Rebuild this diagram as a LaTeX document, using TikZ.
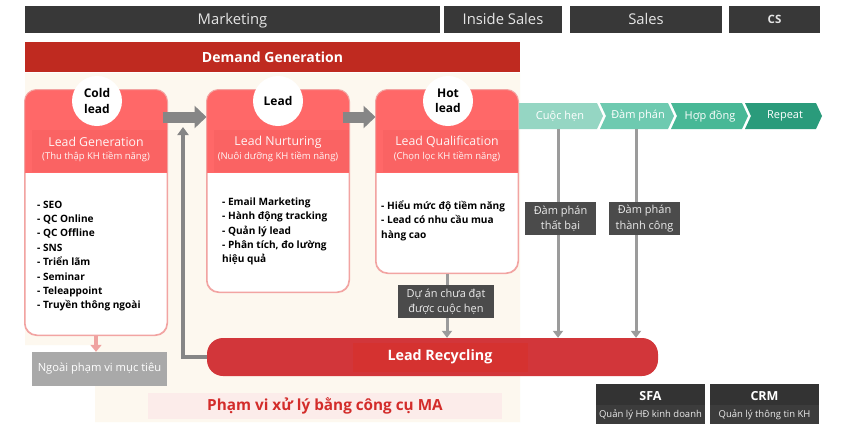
\documentclass[tikz,border=0pt]{standalone}
\usepackage{fontspec}
\setmainfont{Open Sans}
\usetikzlibrary{arrows.meta,calc}
\definecolor{darkbar}{HTML}{383838}
\definecolor{demand}{HTML}{BF2A20}
\definecolor{cream}{HTML}{FDF8EF}
\definecolor{salmon}{HTML}{FF6868}
\definecolor{band}{HTML}{FA6363}
\definecolor{cardborder}{HTML}{F2A4A2}
\definecolor{arrowgray}{HTML}{868686}
\definecolor{linegray}{HTML}{9B9B9B}
\definecolor{labelbox}{HTML}{4B4B4B}
\definecolor{recred}{HTML}{D2363A}
\definecolor{recinner}{HTML}{D53230}
\definecolor{ngoaigray}{HTML}{A9A9A9}
\definecolor{pinkarrow}{HTML}{EFA2A0}
\definecolor{mvbg}{HTML}{FCECEA}
\definecolor{mvtext}{HTML}{D32C2A}
\definecolor{mintA}{HTML}{95D6C3}
\definecolor{mintB}{HTML}{6ECAB0}
\definecolor{mintC}{HTML}{48B896}
\definecolor{mintD}{HTML}{2A9B7B}
\definecolor{toolbox}{HTML}{333333}
\definecolor{toolsub}{HTML}{3C3C3C}
\begin{document}
\begin{tikzpicture}[x=1pt,y=-1pt,
  topbar/.style={fill=darkbar, text=white!90!black, inner sep=0pt, minimum height=27pt, text height=10.5pt, text depth=0pt, font=\fontsize{14.8}{17}\selectfont},
  card/.style={draw=cardborder, line width=1pt, fill=white, rounded corners=12pt, minimum width=142pt, inner sep=0pt},
  bubble/.style={circle, fill=white, minimum size=50pt, inner sep=0pt, align=center, font=\bfseries\fontsize{12}{15.5}\selectfont},
  cardtitle/.style={text=white!96!red, inner sep=0pt, font=\fontsize{12.3}{14}\selectfont},
  cardsub/.style={text=white!96!red, inner sep=0pt, font=\fontsize{9.5}{11}\selectfont},
  listtext/.style={anchor=north west, inner sep=0pt, align=left, font=\bfseries\fontsize{10.1}{14.4}\selectfont},
  blockarrow/.style={draw=arrowgray, line width=11pt, -{Triangle[length=12pt,width=22pt]}},
  vline/.style={draw=linegray, line width=3pt, -{Triangle[length=7pt,width=10pt]}},
  graylabel/.style={fill=labelbox, text=white!92!black, inner sep=0pt, align=center, font=\fontsize{11}{15.5}\selectfont},
  chevtext/.style={text=white, inner sep=0pt, font=\fontsize{11}{13}\selectfont},
  toolnode/.style={fill=toolbox, minimum width=109pt, minimum height=40pt, inner sep=0pt}
]
\useasboundingbox (0,0) rectangle (851,426);
\fill[white] (0,0) rectangle (851,426);
% cream background region
\fill[cream] (25,73) -- (520,73) -- (520,422) -- (95,422) -- (95,345) -- (25,345) -- cycle;

% top bars
\node[topbar, minimum width=415pt] (mkt) at (232.5,19.5) {Marketing};
\node[topbar, minimum width=118pt] (isales) at (503,19.5) {Inside Sales};
\node[topbar, minimum width=152pt] (sales) at (646,19.5) {Sales};
\node[topbar, minimum width=91pt, text height=8.2pt, font=\bfseries\fontsize{11.5}{13}\selectfont] (cs) at (774.5,19.5) {CS};

% demand generation
\node[fill=demand, text=white, minimum width=495pt, minimum height=30pt, inner sep=0pt, font=\bfseries\fontsize{14}{16}\selectfont] (dg) at (272.5,57) {Demand Generation};

% cards
\node[card, minimum height=245pt] (gen) at (96,212.5) {};
\node[card, minimum height=202pt] (nur) at (278,191) {};
\node[card, minimum height=183pt] (qual) at (447,181.5) {};
\foreach \c in {gen,nur,qual}{
  \begin{scope}
    \clip[rounded corners=12pt] (\c.south west) rectangle (\c.north east);
    \fill[salmon] (\c.north west) rectangle ([shift={(0,83)}]\c.north east);
    \fill[band] ([shift={(7,40)}]\c.north west) rectangle ([shift={(-1,82)}]\c.north east);
  \end{scope}
  \draw[cardborder, line width=1pt, rounded corners=12pt] (\c.south west) rectangle (\c.north east);
}

% bubbles
\node[bubble] (b1) at (97,101) {Cold\\lead};
\node[bubble] (b2) at (278,101) {Lead};
\node[bubble] (b3) at (448,101) {Hot\\lead};

% titles
\node[cardtitle] (t1) at (96,142) {Lead Generation};
\node[cardsub] (s1) at (96,157) {(Thu thập KH tiềm năng)};
\node[cardtitle] (t2) at (278,142) {Lead Nurturing};
\node[cardsub] (s2) at (278,157) {(Nuôi dưỡng KH tiềm năng)};
\node[cardtitle] (t3) at (447,142) {Lead Qualification};
\node[cardsub] (s3) at (447,157) {(Chọn lọc KH tiềm năng)};

% lists
\node[listtext] (l1) at (37,200.5) {- SEO\\- QC Online\\- QC Offline\\- SNS\\- Triển lãm\\- Seminar\\- Teleappoint\\- Truyền thông ngoài};
\node[listtext] (l2) at (222,197.5) {- Email Marketing\\- Hành động tracking\\- Quản lý lead\\- Phân tích, đo lường\\hiệu quả};
\node[listtext] (l3) at (381,200.5) {- Hiểu mức độ tiềm năng\\- Lead có nhu cầu mua\\hàng cao};

% block arrows between cards
\draw[blockarrow] ([shift={(-5,27.5)}]gen.north east) -- ([shift={(0,27.5)}]nur.north west);
\draw[blockarrow] ([shift={(-7,27.5)}]nur.north east) -- ([shift={(0,27.5)}]qual.north west);

% chevrons
\fill[mintA] (519,103) -- (597,103) -- (603,116) -- (597,129) -- (519,129) -- cycle;
\node[chevtext] (c1) at (560,116) {Cuộc hẹn};
\fill[mintB] (600,103) -- (668,103) -- (674,116) -- (668,129) -- (600,129) -- (606,116) -- cycle;
\node[chevtext] (c2) at (638,116) {Đàm phán};
\fill[mintC] (671,103) -- (742,103) -- (748,116) -- (742,129) -- (671,129) -- (677,116) -- cycle;
\node[chevtext] (c3) at (710,116) {Hợp đồng};
\fill[mintD] (745,103) -- (816,103) -- (822,116) -- (816,129) -- (745,129) -- (751,116) -- cycle;
\node[chevtext] (c4) at (785,116) {Repeat};
\coordinate (v1) at (558,129);
\coordinate (v2) at (636,129);

% lead recycling
\node[fill=recred, rounded corners=16pt, minimum width=451pt, minimum height=38pt, inner sep=0pt] (rec) at (432.5,357) {};
\fill[recinner] (353,343) rectangle (528,372);
\node[text=white, inner sep=0pt, font=\bfseries\fontsize{14.3}{16}\selectfont] (rect) at (440,357) {Lead Recycling};

% vertical connectors
\draw[vline] (v1) -- (v1 |- rec.north);
\draw[vline] (v2) -- (v2 |- rec.north);
\draw[vline] (qual.south) -- (qual.south |- rec.north);
\node[graylabel, minimum width=71pt, minimum height=33pt] (fail) at (560.5,218.5) {Đàm phán\\thất bại};
\node[graylabel, minimum width=71pt, minimum height=33pt] (succ) at (644.5,218.5) {Đàm phán\\thành công};
\node[graylabel, minimum width=96pt, minimum height=33pt] (duan) at (446,301.5) {Dự án chưa đạt\\được cuộc hẹn};

% return arrow
\coordinate (upend) at (183,127);
\draw[draw=arrowgray, line width=3.5pt, -{Triangle[length=8pt,width=11pt]}] (rec.west) -| (upend);

% out of scope
\node[fill=ngoaigray, text=white, minimum width=135pt, minimum height=34pt, inner sep=0pt, font=\fontsize{11.2}{13}\selectfont] (ngoai) at (99.5,369) {Ngoài phạm vi mục tiêu};
\draw[draw=pinkarrow, line width=4pt, -{Triangle[length=7pt,width=11pt]}] (gen.south) -- (gen.south |- ngoai.north);

% MA scope
\node[fill=mvbg, minimum width=354pt, minimum height=26pt, inner sep=0pt, text=mvtext, font=\bfseries\fontsize{15.3}{18}\selectfont] (ma) at (325,406) {Phạm vi xử lý bằng công cụ MA};

% tools
\node[toolnode] (sfa) at (650.5,404) {};
\fill[toolsub] ([shift={(0,-19)}]sfa.south west) rectangle (sfa.south east);
\node[text=white, inner sep=0pt, font=\bfseries\fontsize{12.5}{14}\selectfont] (sfat) at (650.5,396) {SFA};
\node[text=white!92!black, inner sep=0pt, font=\fontsize{9.5}{11}\selectfont] (sfas) at (650.5,414.5) {Quản lý HĐ kinh doanh};
\node[toolnode] (crm) at (764.5,404) {};
\fill[toolsub] ([shift={(0,-19)}]crm.south west) rectangle (crm.south east);
\node[text=white, inner sep=0pt, font=\bfseries\fontsize{12.5}{14}\selectfont] (crmt) at (764.5,396) {CRM};
\node[text=white!92!black, inner sep=0pt, font=\fontsize{9.5}{11}\selectfont] (crms) at (764.5,414.5) {Quản lý thông tin KH};
\end{tikzpicture}
\end{document}
